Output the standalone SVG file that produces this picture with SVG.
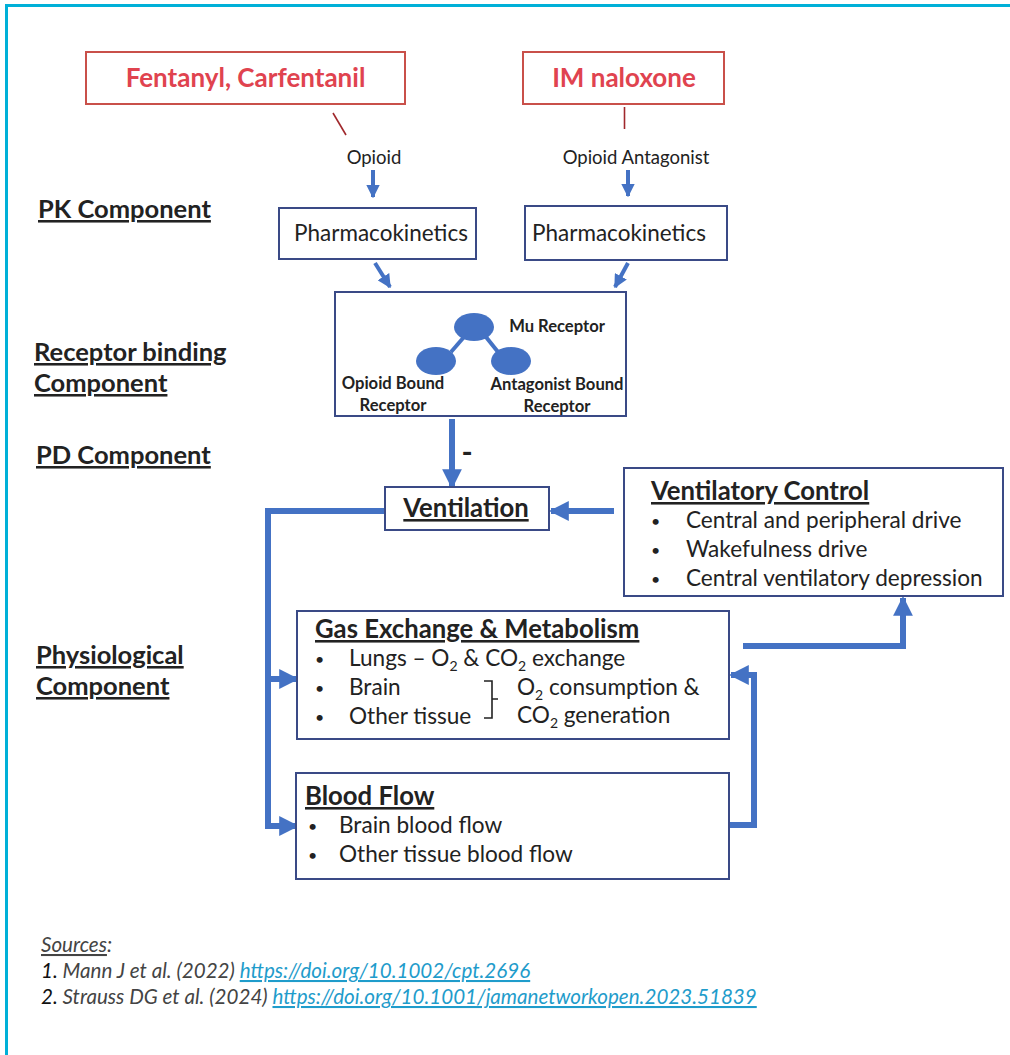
<svg xmlns="http://www.w3.org/2000/svg" width="1010" height="1055" viewBox="0 0 1010 1055">
  <defs>
    <style>
      text { font-family: Lato, "Open Sans", "Liberation Sans", sans-serif; fill: #222; }
      .drug { font-size: 26px; font-weight: bold; fill: #e0434f; text-anchor: middle; }
      .drugbox { fill: #fff; stroke: #c9504a; stroke-width: 2; }
      .box { fill: #fff; stroke: #3a4a86; stroke-width: 2; }
      .small { font-size: 18.5px; text-anchor: middle; }
      .pk { font-size: 22.5px; text-anchor: middle; }
      .side { font-size: 25.5px; font-weight: bold; text-decoration: underline; }
      .title { font-size: 25.7px; font-weight: bold; text-decoration: underline; }
      .item { font-size: 22.6px; }
      .dot { font-size: 16px; }
      .rec { font-size: 16.6px; font-weight: bold; text-anchor: middle; }
      .flow { fill: none; stroke: #4472c4; stroke-width: 6; }
      .thin { fill: none; stroke: #4472c4; stroke-width: 4; }
      .lead { stroke: #a0282c; stroke-width: 1.6; }
      .src { font-size: 20.6px; font-style: italic; fill: #444; }
      .link { fill: #1f9ccb; text-decoration: underline; }
    </style>
    <marker id="head" viewBox="0 0 10 10" refX="9" refY="5" markerWidth="3.3" markerHeight="3.3" orient="auto" markerUnits="strokeWidth">
      <path d="M0,0 L10,5 L0,10 Z" fill="#4472c4"/>
    </marker>
    <marker id="headS" viewBox="0 0 10 10" refX="9" refY="5" markerWidth="3.4" markerHeight="3.4" orient="auto" markerUnits="strokeWidth">
      <path d="M0,0 L10,5 L0,10 Z" fill="#4472c4"/>
    </marker>
  </defs>

  <rect x="0" y="0" width="1010" height="1055" fill="#fff"/>
  <!-- frame -->
  <path d="M6.5,1055 V5.5 H1010" fill="none" stroke="#00b0d8" stroke-width="3"/>

  <!-- section labels -->
  <g id="labels">
    <text class="side" x="38" y="218">PK Component</text>
    <text class="side" x="34" y="361">Receptor binding</text>
    <text class="side" x="34" y="392">Component</text>
    <text class="side" x="36" y="464">PD Component</text>
    <text class="side" x="36" y="664">Physiological</text>
    <text class="side" x="36" y="695">Component</text>
  </g>

  <!-- connectors -->
  <g id="connectors">
    <line class="lead" x1="333" y1="113" x2="346" y2="135"/>
    <line class="lead" x1="624.5" y1="107" x2="624.5" y2="129"/>
    <line class="thin" x1="373" y1="170" x2="373" y2="197" marker-end="url(#headS)"/>
    <line class="thin" x1="628" y1="170" x2="628" y2="196" marker-end="url(#headS)"/>
    <line class="thin" x1="375" y1="263" x2="390" y2="287" marker-end="url(#headS)"/>
    <line class="thin" x1="628" y1="263" x2="615" y2="287" marker-end="url(#headS)"/>
    <line class="flow" x1="452" y1="419" x2="452" y2="487" marker-end="url(#head)"/>
    <line class="flow" x1="614" y1="511" x2="551" y2="511" marker-end="url(#head)"/>
    <path class="flow" d="M385,511 H268 V826 H297" marker-end="url(#head)"/>
    <line class="flow" x1="268" y1="679" x2="297" y2="679" marker-end="url(#head)"/>
    <path class="flow" d="M743,646 H903 V598" marker-end="url(#head)"/>
    <path class="flow" d="M729,825 H754 V675 H731" marker-end="url(#head)"/>
  </g>

  <!-- drug boxes -->
  <g id="fentanyl">
    <rect class="drugbox" x="86" y="52" width="319" height="52"/>
    <text class="drug" x="245.5" y="87">Fentanyl, Carfentanil</text>
  </g>
  <g id="naloxone">
    <rect class="drugbox" x="523" y="52" width="201" height="52"/>
    <text class="drug" x="624" y="87">IM naloxone</text>
  </g>
  <g id="opioid-label">
    <text class="small" x="374" y="164">Opioid</text>
  </g>
  <g id="antagonist-label">
    <text class="small" x="636" y="164">Opioid Antagonist</text>
  </g>

  <!-- PK boxes -->
  <g id="pk-opioid">
    <rect class="box" x="279" y="208" width="197" height="51"/>
    <text class="pk" x="381" y="241">Pharmacokinetics</text>
  </g>
  <g id="pk-antagonist">
    <rect class="box" x="525" y="206" width="202" height="54"/>
    <text class="pk" x="619" y="241">Pharmacokinetics</text>
  </g>

  <!-- receptor binding -->
  <g id="receptor">
    <rect class="box" x="335" y="292" width="291" height="124"/>
    <line x1="464" y1="337" x2="451" y2="352" stroke="#4472c4" stroke-width="4"/>
    <line x1="486" y1="337" x2="498" y2="352" stroke="#4472c4" stroke-width="4"/>
    <ellipse cx="474" cy="327" rx="20" ry="14" fill="#4472c4"/>
    <ellipse cx="436" cy="361" rx="20" ry="14" fill="#4472c4"/>
    <ellipse cx="511" cy="361" rx="20" ry="14" fill="#4472c4"/>
    <text class="rec" x="557" y="332">Mu Receptor</text>
    <text class="rec" x="393" y="389">Opioid Bound</text>
    <text class="rec" x="393" y="411">Receptor</text>
    <text class="rec" x="557" y="390">Antagonist Bound</text>
    <text class="rec" x="557" y="412">Receptor</text>
  </g>
  <text x="467" y="463" font-size="30" font-weight="bold" text-anchor="middle">-</text>

  <!-- ventilation -->
  <g id="ventilation">
    <rect class="box" x="385" y="487" width="164" height="43"/>
    <text class="title" x="466" y="517" text-anchor="middle">Ventilation</text>
  </g>

  <!-- ventilatory control -->
  <g id="ventilatory-control">
    <rect class="box" x="624" y="468" width="379" height="128"/>
    <text class="title" x="651" y="500">Ventilatory Control</text>
    <text class="dot" x="651" y="527">•</text>
    <text class="item" x="686" y="528">Central and peripheral drive</text>
    <text class="dot" x="651" y="556">•</text>
    <text class="item" x="686" y="557">Wakefulness drive</text>
    <text class="dot" x="651" y="585">•</text>
    <text class="item" x="686" y="586">Central ventilatory depression</text>
  </g>

  <!-- gas exchange -->
  <g id="gas-exchange">
    <rect class="box" x="297" y="611" width="432" height="128"/>
    <text class="title" x="315" y="638">Gas Exchange &amp; Metabolism</text>
    <text class="dot" x="315" y="665">•</text>
    <text class="item" x="349" y="666">Lungs – O<tspan font-size="14" dy="5">2</tspan><tspan dy="-5"> &amp; CO</tspan><tspan font-size="14" dy="5">2</tspan><tspan dy="-5"> exchange</tspan></text>
    <text class="dot" x="315" y="694">•</text>
    <text class="item" x="349" y="695">Brain</text>
    <text class="dot" x="315" y="723">•</text>
    <text class="item" x="349" y="724">Other tissue</text>
    <path d="M484,681 H492 V718 H484 M492,699 H498" fill="none" stroke="#222" stroke-width="1.6"/>
    <text class="item" x="517" y="695">O<tspan font-size="14" dy="5">2</tspan><tspan dy="-5"> consumption &amp;</tspan></text>
    <text class="item" x="517" y="723">CO<tspan font-size="14" dy="5">2</tspan><tspan dy="-5"> generation</tspan></text>
  </g>

  <!-- blood flow -->
  <g id="blood-flow">
    <rect class="box" x="296" y="773" width="433" height="106"/>
    <text class="title" x="305" y="805">Blood Flow</text>
    <text class="dot" x="308" y="832">•</text>
    <text class="item" x="339" y="833">Brain blood flow</text>
    <text class="dot" x="308" y="861">•</text>
    <text class="item" x="339" y="862">Other tissue blood flow</text>
  </g>

  <!-- references -->
  <g id="sources">
    <text class="src" x="41" y="952"><tspan text-decoration="underline">Sources</tspan>:</text>
    <text class="src" x="41" y="978"><tspan fill="#111">1.</tspan> Mann J et al. (2022) <tspan class="link">https://doi.org/10.1002/cpt.2696</tspan></text>
    <text class="src" x="41" y="1004"><tspan fill="#111">2.</tspan> Strauss DG et al. (2024) <tspan class="link">https://doi.org/10.1001/jamanetworkopen.2023.51839</tspan></text>
  </g>
</svg>
